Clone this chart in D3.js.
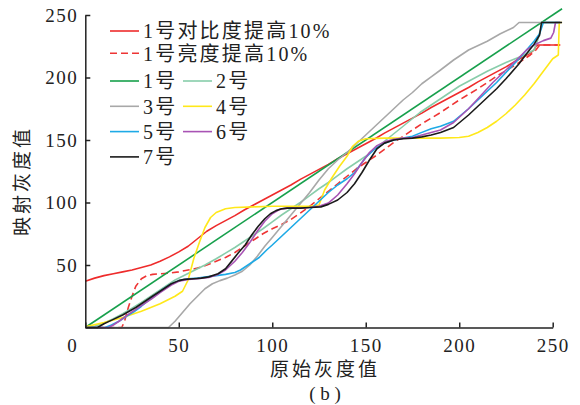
<!DOCTYPE html>
<html>
<head>
<meta charset="utf-8">
<script src="https://cdn.jsdelivr.net/npm/d3@7"></script>
<style>
  body { margin: 0; background: #fff; }
  svg { display: block; }
  .axis path, .axis line { stroke: #222; stroke-width: 1.5; }
  .axis text { font-family: "Liberation Serif", serif; font-size: 19px; letter-spacing: 1.5px; fill: #222; }
  .label { font-family: "Noto Sans CJK SC", sans-serif; font-size: 19px; fill: #222; letter-spacing: 3px; }
  .legend text { font-family: "Liberation Serif", "Noto Sans CJK SC", serif; font-size: 20px; fill: #222; letter-spacing: 2.2px; }
</style>
</head>
<body>
<div id="chart"></div>
<script>
const width = 580;
const height = 405;

const xTicks = [0, 50, 100, 150, 200, 250];
const yTicks = [50, 100, 150, 200, 250];

const seriesNames = ['1号对比度提高10%', '1号亮度提高10%', '1号', '2号', '3号', '4号', '5号', '6号', '7号'];
const seriesColors = ['#ee2b2b', '#ee3535', '#17a04c', '#88cdaa', '#a8a8a8', '#ffe81a', '#1eaae6', '#a853b4', '#1a1a1a'];

// [原始灰度值, 映射灰度值]
const contrast10 = [[0,37],[5,39.5],[10,41.5],[15,43],[20,44.5],[25,46],[30,48],[35,50],[40,53],[45,56.5],[50,60.5],[55,65],[60,71],[65,77],[70,81.5],[75,85.5],[80,89.5],[85,94],[90,98],[95,102],[100,106],[105,110],[110,114],[115,118.5],[120,122.5],[125,126.5],[130,130.5],[135,135],[140,139],[145,143],[150,147],[155,151],[160,155.5],[165,159.5],[170,163.5],[175,167.5],[180,171.5],[185,176],[190,180],[195,184],[200,188],[205,192],[210,196.5],[215,200.5],[220,204.5],[225,208.5],[230,213],[235,217],[238,219.5],[240,222],[241,225],[242,226],[254,226]];
const bright10 = [[0,0],[19.5,0],[21,5],[23,16],[25,25],[27,33],[30,39],[33,41.5],[36,42.5],[40,43],[45,43.5],[50,44.5],[55,46],[60,47.5],[65,50],[70,53],[75,56],[80,60],[85,65],[90,70],[95,75],[100,79],[105,82.5],[110,86.5],[115,91.5],[120,97],[125,103],[130,109],[135,115],[140,121],[145,127],[150,132],[155,137],[160,142.5],[165,148],[170,153],[175,158],[180,163],[185,167.5],[190,172],[195,177],[200,182],[205,186.5],[210,191],[215,196],[220,201],[225,205.5],[230,210],[235,215],[238,218],[241,222],[243,226],[254,226]];
const no1 = [[0,0],[255,255]];
const no2 = [[0,0],[5,1],[10,3.5],[15,7],[20,11],[25,15.5],[30,20],[35,25],[40,30],[45,35],[48,38],[52,41],[56,44],[60,47],[64,50],[70,55],[75,59.5],[80,64],[86,70],[90,74],[95,79],[100,84.5],[105,90],[110,95],[115,100],[120,105.5],[125,111],[130,116],[135,121.5],[140,127],[145,132],[150,137],[160,149],[170,161],[179,172],[190,183],[200,193],[210,201],[215,205],[225,212],[235,218],[240,222],[242,230],[243,236],[244.5,244],[254,244]];
const no3 = [[0,0],[44.5,0],[48,5],[52,12],[56,19],[60,25],[64,31],[68,35],[72,37.5],[76,39.5],[80,42],[84,45],[88,50],[92,57],[96,65],[100,72],[105,81],[110,90],[115,99],[120,108],[125,118],[130,127],[135,134],[140,140],[145,147],[150,154],[155,161],[160,168],[165,175],[170,182],[175,188],[180,195],[185,200.5],[190,206],[197,214],[205,222],[215,229],[222,235],[229,240],[232,244],[254,244]];
const no4 = [[0,0.5],[10,4],[20,8],[30,13],[40,19],[48,25],[52,29],[55,38],[58,55],[61,68],[64,80],[67,88],[70,92],[75,95],[80,96],[90,96.5],[100,97],[110,97],[120,97],[125,98],[128,110],[132,120],[136,129],[140,137],[143,145],[146,149],[150,151],[160,151.5],[170,151.5],[180,151.5],[190,151.5],[200,152],[205,153],[210,156],[215,160],[220,165],[225,171],[230,178],[235,186],[240,195],[245,205],[250,215],[253,218],[253.5,244],[255,244]];
const no5 = [[0,0],[10.5,0],[14,2],[18,5],[22,9],[26,12.5],[30,17],[35,23],[40,29],[45,34],[50,37.5],[55,39],[60,39.5],[65,40.5],[70,41.5],[75,42.5],[80,44],[83,46],[87,50],[90,53],[93,56],[97,62],[100,66],[105,73],[110,80],[115,87],[120,94],[125,101],[130,108],[135,114],[140,119],[144,124],[147,130],[150,136],[155,143],[160,147.5],[165,150],[170,151.5],[175,153],[179,155.5],[185,159],[190,161],[197,165],[205,175],[210,182],[215,189],[220,196],[225,204],[232,215],[236,222],[240,229],[243,235],[245,244],[254,244]];
const no6 = [[0,0],[12.5,0],[15,2],[18,5],[23,10.5],[27,14.5],[31,18.5],[35.5,23],[40,28],[46,34],[50,37],[55,38.5],[60,39],[66,40],[71,42.5],[75,46],[80,53],[84,60],[88,68],[92,77],[96,85],[100,91],[104,94.5],[108,95.5],[115,95.5],[120,96],[125,97],[130,99.5],[135,106],[140,115],[144,123],[148,132],[152,140],[156,145.5],[160,148.5],[165,150.5],[170,151.5],[175,152],[180,154],[185,156],[190,158],[197,164],[205,175],[210,183],[218,196],[225,206],[232,216],[236,222],[240,226],[245,229.5],[249,231.5],[250.5,236],[251.5,244],[254,244]];
const no7 = [[0,0],[6.5,0],[10,3],[15,6.5],[20,10],[23,12.6],[27,16],[31,20],[35.5,24.6],[40,29],[46,35],[50,37.5],[53,38.5],[58,39],[62,39.5],[66,40.5],[71,43],[75,47],[78,52.5],[82,60],[85.5,66],[89,74],[92.5,81],[96,87],[99,91],[102,93.5],[105,95],[108,95.5],[115,95.5],[120,96],[126,96.5],[130,98.5],[135,102],[140,108],[144,115],[148,124],[152,134],[156,143],[160,147.5],[165,150],[170,151],[175,151.5],[180,152.5],[185,154],[190,156],[197,160],[205,170],[210,177],[215,184],[220,191],[225,199],[232,211],[236,219],[240,226.5],[243,234],[244,244],[255,244]];

const seriesData = [contrast10, bright10, no1, no2, no3, no4, no5, no6, no7];

const svg = d3.select('#chart').append('svg')
    .attr('width', width)
    .attr('height', height);

const x = d3.scaleLinear().domain([0, 250]).range([85.3, 552.7]);
const y = d3.scaleLinear().domain([0, 250]).range([327.5, 15]);

const line = d3.line()
    .x(d => x(d[0]))
    .y(d => y(d[1]));

// curves, legend order so black ends on top
svg.append('g')
    .selectAll('path')
    .data(seriesData)
    .join('path')
    .attr('d', line)
    .attr('fill', 'none')
    .attr('stroke', (d, i) => seriesColors[i])
    .attr('stroke-width', 1.6)
    .attr('stroke-linejoin', 'round')
    .attr('stroke-dasharray', (d, i) => i === 1 ? '7,4' : null);

const xAxis = svg.append('g')
    .attr('class', 'axis')
    .attr('transform', `translate(0,${y(0)})`)
    .call(d3.axisBottom(x).tickValues(xTicks).tickSizeInner(-5).tickSizeOuter(0).tickPadding(11));
xAxis.selectAll('.tick text').filter(d => d === 0).attr('dx', '-13px');

svg.append('g')
    .attr('class', 'axis')
    .attr('transform', `translate(${x(0)},0)`)
    .call(d3.axisLeft(y).tickValues(yTicks).tickSizeInner(-5).tickSizeOuter(0).tickPadding(7));

svg.selectAll('.axis .domain').attr('stroke-width', 1.5);

// axis titles
svg.append('text')
    .attr('class', 'label')
    .attr('x', 325)
    .attr('y', 376)
    .attr('text-anchor', 'middle')
    .text('原始灰度值');

svg.append('text')
    .attr('x', 325)
    .attr('y', 400)
    .attr('text-anchor', 'middle')
    .style('font-family', '"Liberation Serif", serif')
    .style('font-size', '19px')
    .style('fill', '#222')
    .text('( b )');

svg.append('text')
    .attr('class', 'label')
    .attr('transform', 'translate(29,181) rotate(-90)')
    .attr('text-anchor', 'middle')
    .text('映射灰度值');

// legend: two full-width rows, then two columns
const legendPos = (i) => {
    if (i < 2) return [110, 31 + i * 22.3];
    const k = i - 2;
    return [k % 2 === 0 ? 110 : 183, 81 + Math.floor(k / 2) * 25.3];
};

const legend = svg.append('g').attr('class', 'legend')
    .selectAll('g')
    .data(seriesNames)
    .join('g')
    .attr('transform', (d, i) => `translate(${legendPos(i)[0]},${legendPos(i)[1]})`);

legend.append('line')
    .attr('x1', 0)
    .attr('x2', 29)
    .attr('stroke', (d, i) => seriesColors[i])
    .attr('stroke-width', 1.6)
    .attr('stroke-dasharray', (d, i) => i === 1 ? '7,4' : null);

legend.append('text')
    .attr('x', 33)
    .attr('dy', '0.36em')
    .text(d => d);
</script>
</body>
</html>
